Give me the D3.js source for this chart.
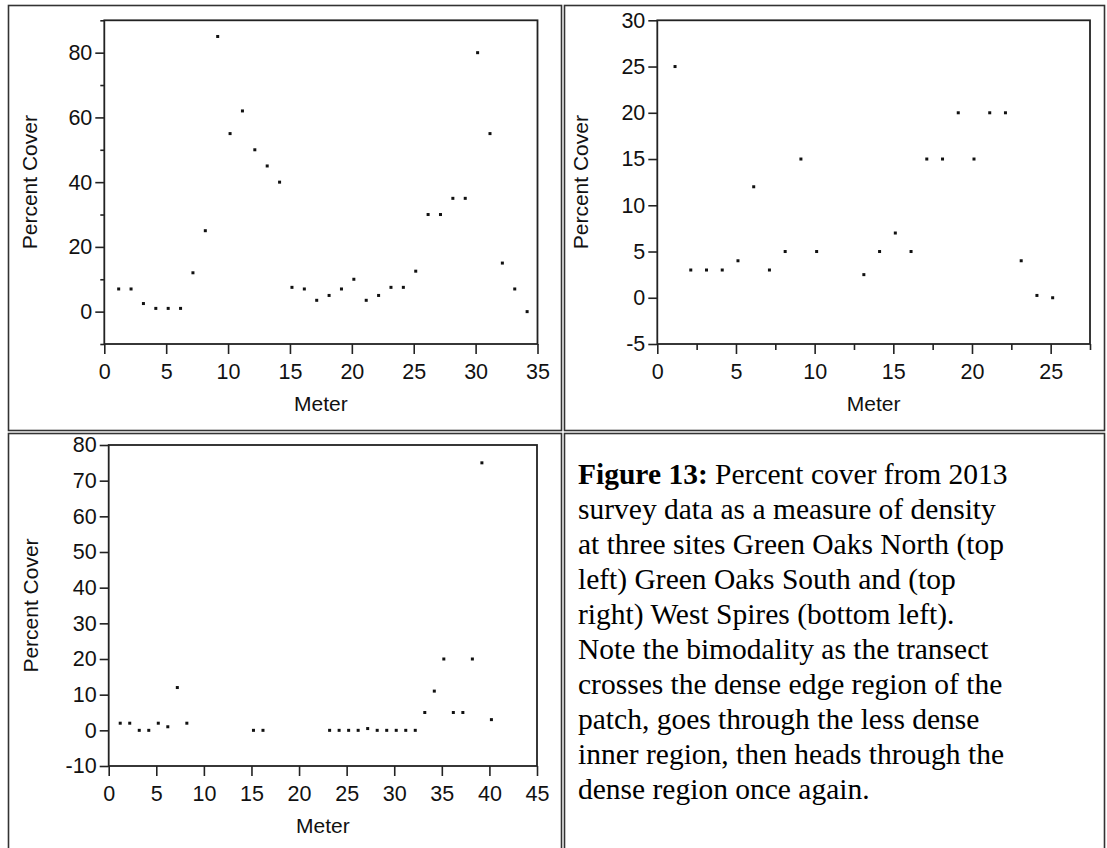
<!DOCTYPE html>
<html><head><meta charset="utf-8">
<script src="https://cdn.jsdelivr.net/npm/d3@7"></script>
<style>body{margin:0;background:#fff}svg{display:block}</style>
</head><body><svg id="c" width="1107" height="848"></svg>
<script>
// Green Oaks North (top left)
const meterNorth = [1,2,3,4,5,6,7,8,9,10,11,12,13,14,15,16,17,18,19,20,21,22,23,24,25,26,27,28,29,30,31,32,33,34];
const coverNorth = [7,7,2.5,1,1,1,12,25,85,55,62,50,45,40,7.5,7,3.5,5,7,10,3.5,5,7.5,7.5,12.5,30,30,35,35,80,55,15,7,0];
// Green Oaks South (top right)
const meterSouth = [1,2,3,4,5,6,7,8,9,10,13,14,15,16,17,18,19,20,21,22,23,24,25];
const coverSouth = [25,3,3,3,4,12,3,5,15,5,2.5,5,7,5,15,15,20,15,20,20,4,0.25,0];
// West Spires (bottom left)
const meterWest = [1,2,3,4,5,6,7,8,15,16,23,24,25,26,27,28,29,30,31,32,33,34,35,36,37,38,39,40];
const coverWest = [2,2,0,0,2,1,12,2,0,0,0,0,0,0,0.5,0,0,0,0,0,5,11,20,5,5,20,75,3];

const xTicksNorth = [0,5,10,15,20,25,30,35];
const yTicksNorth = [0,20,40,60,80];
const yMinorNorth = [-10,10,30,50,70,90];
const xTicksSouth = [0,5,10,15,20,25];
const xMinorSouth = [2.5,7.5,12.5,17.5,22.5,27.5];
const yTicksSouth = [-5,0,5,10,15,20,25,30];
const xTicksWest = [0,5,10,15,20,25,30,35,40,45];
const yTicksWest = [-10,0,10,20,30,40,50,60,70,80];

const xTitle = "Meter";
const yTitle = "Percent Cover";
const captionBold = "Figure 13:";
const captionLines = [
  " Percent cover from 2013",
  "survey data as a measure of density",
  "at three sites Green Oaks North (top",
  "left) Green Oaks South and (top",
  "right) West Spires (bottom left).",
  "Note the bimodality as the transect",
  "crosses the dense edge region of the",
  "patch, goes through the less dense",
  "inner region, then heads through the",
  "dense region once again."
];

const svg = d3.select("#c");
const LINE = "#222";
const FONT = "'Liberation Sans', Arial, sans-serif";
const fmt = d => String(d);

// table cell borders
const cells = [[8.5,5.5,553,425],[564.5,5.5,540,425],[8.5,433.5,553,430],[564.5,433.5,540,430]];
svg.selectAll("rect.cell").data(cells).join("rect").attr("class","cell")
  .attr("x",d=>d[0]).attr("y",d=>d[1]).attr("width",d=>d[2]).attr("height",d=>d[3])
  .attr("fill","none").attr("stroke","#333").attr("stroke-width",1.6);

function panel(cfg){
  const g = svg.append("g");
  const x = d3.scaleLinear().domain(cfg.xDom).range([cfg.left, cfg.right]);
  const y = d3.scaleLinear().domain(cfg.yDom).range([cfg.bottom, cfg.top]);
  if (cfg.yMinor) {
    const a = g.append("g").attr("transform",`translate(${cfg.left},0)`)
      .call(d3.axisLeft(y).tickValues(cfg.yMinor).tickSize(4).tickFormat(""));
    a.select(".domain").remove();
    a.selectAll("line").attr("stroke",LINE).attr("stroke-width",1.6);
  }
  if (cfg.xMinor) {
    const a = g.append("g").attr("transform",`translate(0,${cfg.bottom})`)
      .call(d3.axisBottom(x).tickValues(cfg.xMinor).tickSize(6).tickFormat(""));
    a.select(".domain").remove();
    a.selectAll("line").attr("stroke",LINE).attr("stroke-width",1.6);
  }
  const ya = g.append("g").attr("transform",`translate(${cfg.left},0)`)
    .call(d3.axisLeft(y).tickValues(cfg.yTicks).tickSize(9).tickPadding(3).tickFormat(fmt));
  ya.select(".domain").remove();
  ya.selectAll("line").attr("stroke",LINE).attr("stroke-width",1.6);
  ya.selectAll("text").attr("fill","#111").style("font-family",FONT).style("font-size","21.5px");
  const xa = g.append("g").attr("transform",`translate(0,${cfg.bottom})`)
    .call(d3.axisBottom(x).tickValues(cfg.xTicks).tickSize(10).tickPadding(10).tickFormat(fmt));
  xa.select(".domain").remove();
  xa.selectAll("line").attr("stroke",LINE).attr("stroke-width",1.6);
  xa.selectAll("text").attr("fill","#111").style("font-family",FONT).style("font-size","21.5px");
  g.append("rect").attr("x",cfg.left).attr("y",cfg.top)
    .attr("width",cfg.right-cfg.left).attr("height",cfg.bottom-cfg.top)
    .attr("fill","none").attr("stroke",LINE).attr("stroke-width",1.8);
  const pts = cfg.xs.map((v,i)=>[v,cfg.ys[i]]);
  g.selectAll("rect.pt").data(pts).join("rect").attr("class","pt")
    .attr("x",d=>x(d[0])+0.5).attr("y",d=>y(d[1])-1.5)
    .attr("width",3).attr("height",3).attr("fill","#111");
  g.append("text").attr("x",(cfg.left+cfg.right)/2).attr("y",cfg.bottom+67)
    .attr("text-anchor","middle").attr("fill","#111")
    .style("font-family",FONT).style("font-size","21px").text(xTitle);
  g.append("text").attr("transform",`translate(${cfg.ytx},${(cfg.top+cfg.bottom)/2}) rotate(-90)`)
    .attr("text-anchor","middle").attr("fill","#111")
    .style("font-family",FONT).style("font-size","21px").text(yTitle);
}

panel({xDom:[0,35], yDom:[-10,90], left:104.3, right:537.5, top:20.3, bottom:344,
  xTicks:xTicksNorth, yTicks:yTicksNorth, yMinor:yMinorNorth, xs:meterNorth, ys:coverNorth, ytx:37});
panel({xDom:[0,27.5], yDom:[-5,30], left:657.3, right:1090, top:20.3, bottom:344,
  xTicks:xTicksSouth, xMinor:xMinorSouth, yTicks:yTicksSouth, xs:meterSouth, ys:coverSouth, ytx:588});
panel({xDom:[0,45], yDom:[-10,80], left:108.7, right:537, top:445, bottom:766,
  xTicks:xTicksWest, yTicks:yTicksWest, xs:meterWest, ys:coverWest, ytx:38});

const cap = svg.append("text").attr("fill","#000")
  .style("font-family","'Liberation Serif','Times New Roman',serif").style("font-size","29.5px");
captionLines.forEach((line,i)=>{
  if (i===0) {
    cap.append("tspan").attr("x",578).attr("y",484).style("font-weight","bold").text(captionBold);
    cap.append("tspan").text(line);
  } else {
    cap.append("tspan").attr("x",578).attr("y",484+35*i).text(line);
  }
});
</script></body></html>
